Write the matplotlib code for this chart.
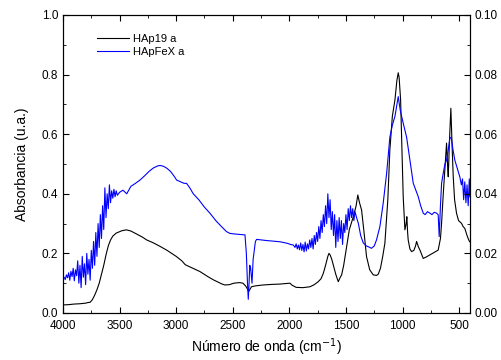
import matplotlib
matplotlib.use("Agg")
import matplotlib.pyplot as plt
from matplotlib.ticker import MultipleLocator, FormatStrFormatter

plt.rcParams["font.family"] = ["Liberation Sans", "DejaVu Sans"]

# HAp19 a (black)
hap_x = [4000, 3950, 3900, 3850, 3800, 3780, 3760, 3740, 3720, 3700, 3680, 3660,
         3640, 3620, 3600, 3580, 3560, 3530, 3480, 3440, 3400, 3350, 3300, 3260,
         3200, 3140, 3080, 3000, 2950, 2920, 2880, 2790, 2720, 2670, 2600, 2570,
         2530, 2490, 2440, 2410, 2385, 2370, 2360, 2350, 2335, 2300, 2231, 2150,
         2083, 2020, 1995, 1975, 1940, 1880, 1818, 1780, 1745, 1720, 1700, 1680,
         1660, 1650, 1640, 1625, 1612, 1590, 1568, 1550, 1538, 1520, 1494, 1470,
         1435, 1410, 1395, 1380, 1362, 1340, 1318, 1290, 1259, 1230, 1215, 1195,
         1175, 1156, 1130, 1112, 1090, 1067, 1050, 1038, 1030, 1017, 1005, 994,
         979, 968, 962, 955, 950, 935, 920, 900, 885, 876, 860, 846, 835, 817,
         790, 758, 720, 685, 665, 655, 640, 625, 611, 600, 596, 585, 573, 562,
         552, 540, 523, 505, 490, 479, 465, 450, 430, 415, 406]
hap_y = [0.027, 0.028, 0.030, 0.031, 0.033, 0.035, 0.036, 0.045, 0.060, 0.078, 0.100, 0.130,
         0.160, 0.195, 0.225, 0.245, 0.258, 0.268, 0.276, 0.279, 0.275, 0.265, 0.255, 0.245,
         0.235, 0.223, 0.210, 0.190, 0.175, 0.162, 0.155, 0.139, 0.122, 0.111, 0.098, 0.094,
         0.095, 0.100, 0.102, 0.100, 0.090, 0.080, 0.072, 0.078, 0.088, 0.091, 0.094, 0.096,
         0.097, 0.099, 0.100, 0.093, 0.086, 0.085, 0.088, 0.095, 0.105, 0.115, 0.133, 0.160,
         0.190, 0.200, 0.195, 0.180, 0.161, 0.130, 0.105, 0.120, 0.128, 0.160, 0.222, 0.280,
         0.323, 0.360, 0.396, 0.370, 0.346, 0.270, 0.189, 0.145, 0.128, 0.126, 0.130, 0.150,
         0.190, 0.234, 0.380, 0.547, 0.660, 0.715, 0.780, 0.806, 0.790, 0.715, 0.550, 0.390,
         0.279, 0.300, 0.323, 0.270, 0.245, 0.215, 0.206, 0.210, 0.225, 0.240, 0.222, 0.211,
         0.200, 0.183, 0.188, 0.195, 0.203, 0.211, 0.250, 0.301, 0.400, 0.491, 0.570, 0.480,
         0.457, 0.580, 0.687, 0.560, 0.457, 0.380, 0.335, 0.310, 0.305, 0.301, 0.290, 0.284,
         0.260, 0.245, 0.239]

# HApFeX a (blue)
fex_x = [4000, 3990, 3980, 3970, 3960, 3950, 3940, 3930, 3920, 3910, 3900, 3890,
         3880, 3870, 3860, 3850, 3840, 3830, 3820, 3810, 3800, 3790, 3780, 3770,
         3760, 3750, 3740, 3730, 3720, 3710, 3700, 3690, 3680, 3670, 3660, 3650,
         3640, 3630, 3620, 3610, 3600, 3590, 3580, 3570, 3560, 3550, 3540, 3530,
         3520, 3500, 3470, 3437, 3400, 3360, 3320, 3280, 3240, 3200, 3160, 3140,
         3110, 3080, 3050, 3020, 2996, 2960, 2930, 2908, 2880, 2849, 2800, 2750,
         2702, 2650, 2600, 2555, 2525, 2480, 2420, 2392, 2380, 2370, 2363, 2356,
         2350, 2342, 2330, 2320, 2300, 2289, 2200, 2083, 2020, 1990, 1965, 1950,
         1940, 1930, 1920, 1910, 1900, 1890, 1880, 1870, 1860, 1850, 1840, 1830,
         1820, 1810, 1800, 1790, 1780, 1770, 1760, 1750, 1740, 1730, 1720, 1710,
         1700, 1690, 1680, 1670, 1660, 1650, 1640, 1630, 1620, 1610, 1600, 1590,
         1580, 1570, 1560, 1550, 1540, 1530, 1520, 1510, 1500, 1490, 1480, 1470,
         1460, 1450, 1440, 1430, 1420, 1406, 1390, 1370, 1347, 1320, 1300, 1274,
         1250, 1230, 1200, 1171, 1140, 1112, 1090, 1067, 1050, 1038, 1020, 994,
         964, 935, 905, 880, 861, 840, 817, 800, 780, 758, 740, 720, 699, 685,
         676, 665, 655, 640, 625, 611, 595, 582, 570, 555, 538, 520, 505, 494,
         480, 470, 460, 450, 440, 430, 420, 410, 405]
fex_y = [0.115, 0.120, 0.112, 0.128, 0.118, 0.135, 0.110, 0.140, 0.122, 0.150, 0.108, 0.145,
         0.125, 0.175, 0.100, 0.160, 0.085, 0.190, 0.120, 0.165, 0.095, 0.200, 0.130, 0.180,
         0.110, 0.210, 0.150, 0.240, 0.160, 0.270, 0.190, 0.300, 0.220, 0.330, 0.250, 0.360,
         0.280, 0.420, 0.320, 0.400, 0.350, 0.430, 0.370, 0.410, 0.385, 0.415, 0.390, 0.410,
         0.395, 0.405, 0.412, 0.400, 0.425, 0.435, 0.446, 0.460, 0.475, 0.487, 0.494, 0.495,
         0.492, 0.485, 0.475, 0.460, 0.446, 0.440, 0.435, 0.435, 0.420, 0.400, 0.380, 0.355,
         0.335, 0.310, 0.290, 0.273, 0.267, 0.265, 0.263, 0.262, 0.200, 0.100, 0.046, 0.100,
         0.160, 0.150, 0.100, 0.180, 0.240, 0.247, 0.243, 0.239, 0.234, 0.230, 0.228, 0.220,
         0.232, 0.215, 0.228, 0.212, 0.235, 0.210, 0.230, 0.205, 0.238, 0.208, 0.232, 0.215,
         0.245, 0.220, 0.250, 0.215, 0.260, 0.230, 0.270, 0.240, 0.290, 0.250, 0.310, 0.270,
         0.330, 0.290, 0.360, 0.300, 0.400, 0.320, 0.380, 0.280, 0.340, 0.260, 0.330, 0.220,
         0.310, 0.240, 0.320, 0.250, 0.310, 0.230, 0.300, 0.270, 0.330, 0.280, 0.350, 0.310,
         0.360, 0.320, 0.350, 0.310, 0.340, 0.320, 0.300, 0.260, 0.235, 0.225, 0.222, 0.217,
         0.225, 0.245, 0.290, 0.368, 0.470, 0.590, 0.630, 0.660, 0.700, 0.726, 0.680, 0.637,
         0.590, 0.513, 0.435, 0.410, 0.390, 0.360, 0.335, 0.330, 0.340, 0.335, 0.330, 0.338,
         0.335, 0.330, 0.256, 0.360, 0.435, 0.470, 0.500, 0.513, 0.550, 0.586, 0.590, 0.550,
         0.513, 0.490, 0.470, 0.457, 0.430, 0.450, 0.380, 0.440, 0.370, 0.430, 0.360, 0.450,
         0.390]

fig = plt.figure(figsize=(5.02, 3.6), dpi=100)
ax = fig.add_axes([0.1255, 0.1306, 0.8105, 0.8278])
ax.plot(hap_x, hap_y, color="black", lw=0.8, label="HAp19 a")
ax.plot(fex_x, fex_y, color="#0000ff", lw=0.8, label="HApFeX a")

ax.set_xlim(4000, 405)
ax.set_ylim(0, 1.0)
ax.xaxis.set_major_locator(MultipleLocator(500))
ax.xaxis.set_minor_locator(MultipleLocator(250))
ax.yaxis.set_major_locator(MultipleLocator(0.2))
ax.yaxis.set_minor_locator(MultipleLocator(0.1))
ax.yaxis.set_major_formatter(FormatStrFormatter("%.1f"))
ax.tick_params(which="both", direction="in", top=True, labelsize=8.5)
ax.tick_params(which="major", length=4)
ax.tick_params(which="minor", length=2.5)
ax.tick_params(axis="x", pad=5)
ax.set_xlabel("Número de onda (cm$^{-1}$)", fontsize=10, labelpad=3)
ax.set_ylabel("Absorbancia (u.a.)", fontsize=10, labelpad=9)

ax2 = ax.twinx()
ax2.set_ylim(0, 0.10)
ax2.yaxis.set_major_locator(MultipleLocator(0.02))
ax2.yaxis.set_minor_locator(MultipleLocator(0.01))
ax2.yaxis.set_major_formatter(FormatStrFormatter("%.2f"))
ax2.tick_params(which="both", direction="in", labelsize=8.5)
ax2.tick_params(which="major", length=4)
ax2.tick_params(which="minor", length=2.5)

ax.legend(loc="upper left", bbox_to_anchor=(0.06, 0.97), frameon=False,
          fontsize=8, handlelength=2.8, handletextpad=0.4, labelspacing=0.3)

fig.savefig("out.png", dpi=100)
